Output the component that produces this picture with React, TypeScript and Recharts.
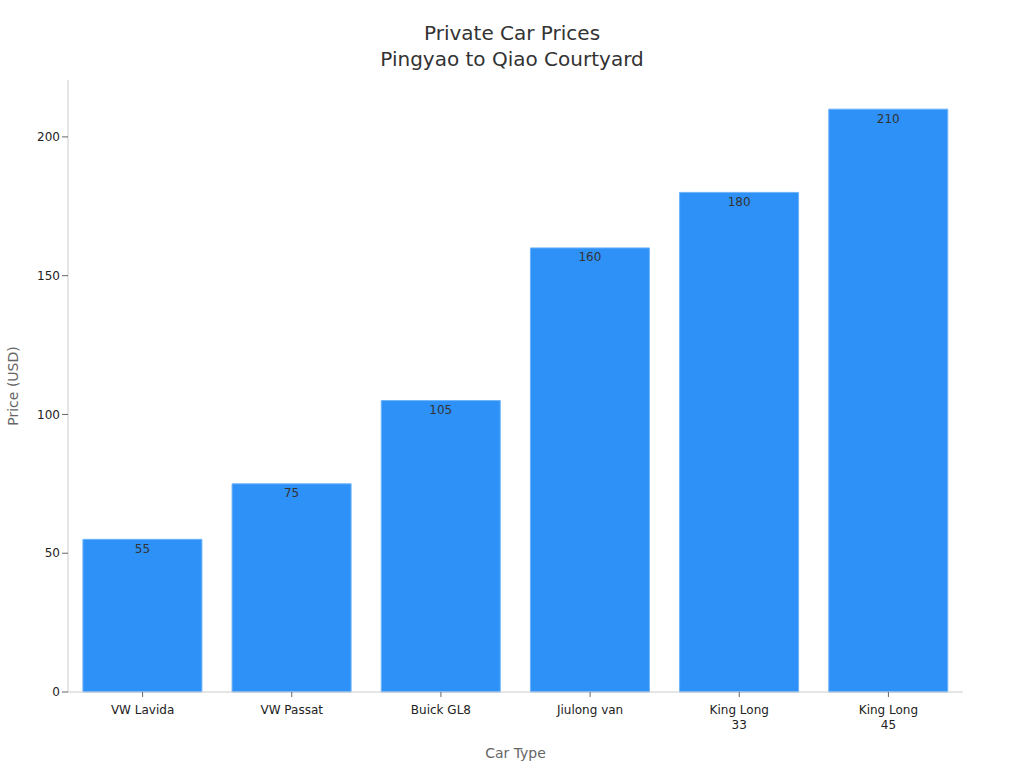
import { BarChart, Bar, XAxis, YAxis, LabelList } from "recharts";

const carTypes = ["VW Lavida", "VW Passat", "Buick GL8", "Jiulong van", "King Long 33", "King Long 45"];
const pricesUsd = [55, 75, 105, 160, 180, 210];
const yTicks = [0, 50, 100, 150, 200];

const FONT = "'DejaVu Sans', sans-serif";

const chartData = carTypes.map((name, i) => ({ name, price: pricesUsd[i] }));

// long names break before their last word, like the original
function CarTick(props: any) {
  const { x, y, payload } = props;
  const text: string = payload.value;
  let lines = [text];
  if (text.length > 11) {
    const cut = text.lastIndexOf(" ");
    lines = [text.slice(0, cut), text.slice(cut + 1)];
  }
  return (
    <text x={x} y={y + 4} textAnchor="middle" fontSize={12} fill="#222" fontFamily={FONT}>
      {lines.map((l, i) => (
        <tspan key={i} x={x} dy={i === 0 ? "0.9em" : 15}>
          {l}
        </tspan>
      ))}
    </text>
  );
}

export default function App() {
  return (
    <div style={{ position: "absolute", left: 0, top: 0, width: 1024, height: 768, fontFamily: FONT }}>
      <div
        style={{
          position: "absolute",
          top: 20,
          width: 1024,
          textAlign: "center",
          fontSize: 20,
          lineHeight: "26px",
          color: "#333",
        }}
      >
        Private Car Prices
        <br />
        Pingyao to Qiao Courtyard
      </div>
      <BarChart
        width={1024}
        height={768}
        data={chartData}
        margin={{ top: 80, right: 61, bottom: 0, left: 0 }}
        barCategoryGap="10%"
      >
        <XAxis
          dataKey="name"
          height={76}
          tick={<CarTick />}
          tickLine={{ stroke: "#666" }}
          axisLine={{ stroke: "#ccc" }}
          tickSize={5}
          interval={0}
          label={{ value: "Car Type", position: "insideBottom", offset: 10, fontSize: 14, fill: "#666", fontFamily: FONT }}
        />
        <YAxis
          width={68}
          domain={[0, 220.5]}
          ticks={yTicks}
          tick={{ fontSize: 12, fill: "#222", fontFamily: FONT }}
          tickLine={{ stroke: "#666" }}
          axisLine={{ stroke: "#ccc" }}
          tickSize={6}
          label={{
            value: "Price (USD)",
            angle: -90,
            position: "insideLeft",
            offset: 13,
            textAnchor: "middle",
            fontSize: 14,
            fill: "#666",
            fontFamily: FONT,
          }}
        />
        <Bar dataKey="price" fill="#2e91f8" stroke="#6cb4fa" strokeWidth={1} isAnimationActive={false}>
          <LabelList dataKey="price" position="insideTop" offset={5} fontSize={12} fill="#333" fontFamily={FONT} />
        </Bar>
      </BarChart>
    </div>
  );
}
